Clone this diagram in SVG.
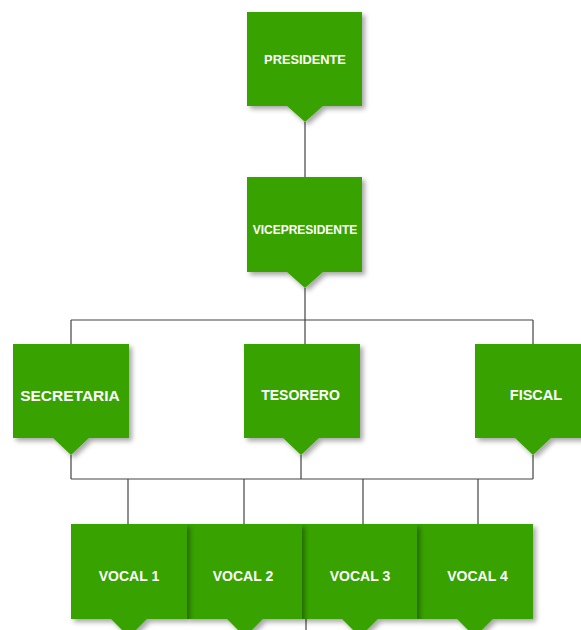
<svg xmlns="http://www.w3.org/2000/svg" width="581" height="630" viewBox="0 0 581 630">
<defs>
<filter id="sh" x="-20%" y="-20%" width="150%" height="150%">
<feDropShadow dx="3" dy="3" stdDeviation="2.5" flood-color="#000" flood-opacity="0.35"/>
</filter>
<style>
.n{fill:#39a300;filter:url(#sh)}
.t{fill:#fff;font-family:"Liberation Sans",Arial,sans-serif;font-weight:bold;text-anchor:middle}
.c{stroke:#444;stroke-width:1.2;fill:none}
</style>
</defs>
<rect width="581" height="630" fill="#fff"/>
<g id="connectors">
<path class="c" d="M305 122V177M305 288V320M71 320H533M71 320V344M305 320V344M533 320V344"/>
<path class="c" d="M71 455V479M301 455V479M533 455V479M71 479H533M128 479V524M244 479V524M363 479V524M478 479V524M306 619V630"/>
</g>
<g id="presidente">
<path class="n" d="M247 12H362V106H323L305 122L287 106H247Z"/>
<text class="t" x="305" y="64" font-size="12.8">PRESIDENTE</text>
</g>
<g id="vicepresidente">
<path class="n" d="M247 177H362V272H323L305 288L287 272H247Z"/>
<text class="t" x="305" y="234" font-size="12">VICEPRESIDENTE</text>
</g>
<g id="secretaria">
<path class="n" d="M13 344H129V438H89L71 455L53 438H13Z"/>
<text class="t" x="70" y="400.5" font-size="15.5">SECRETARIA</text>
</g>
<g id="tesorero">
<path class="n" d="M244 344H360V438H319L301 455L283 438H244Z"/>
<text class="t" x="300.5" y="399.5" font-size="14">TESORERO</text>
</g>
<g id="fiscal">
<path class="n" d="M475 344H591V438H551L533 455L515 438H475Z"/>
<text class="t" x="536" y="400" font-size="14.5">FISCAL</text>
</g>
<g id="vocal4">
<path class="n" d="M417 524H533V619H493L475 637L457 619H417Z"/>
<text class="t" x="477.5" y="581" font-size="14">VOCAL 4</text>
</g>
<g id="vocal3">
<path class="n" d="M302 524H417V619H378L360 637L342 619H302Z"/>
<text class="t" x="360" y="581" font-size="14">VOCAL 3</text>
</g>
<g id="vocal2">
<path class="n" d="M187 524H302V619H263L245 637L227 619H187Z"/>
<text class="t" x="243" y="581" font-size="14">VOCAL 2</text>
</g>
<g id="vocal1">
<path class="n" d="M71 524H187V619H147L129 637L111 619H71Z"/>
<text class="t" x="129" y="581" font-size="14">VOCAL 1</text>
</g>
</svg>
